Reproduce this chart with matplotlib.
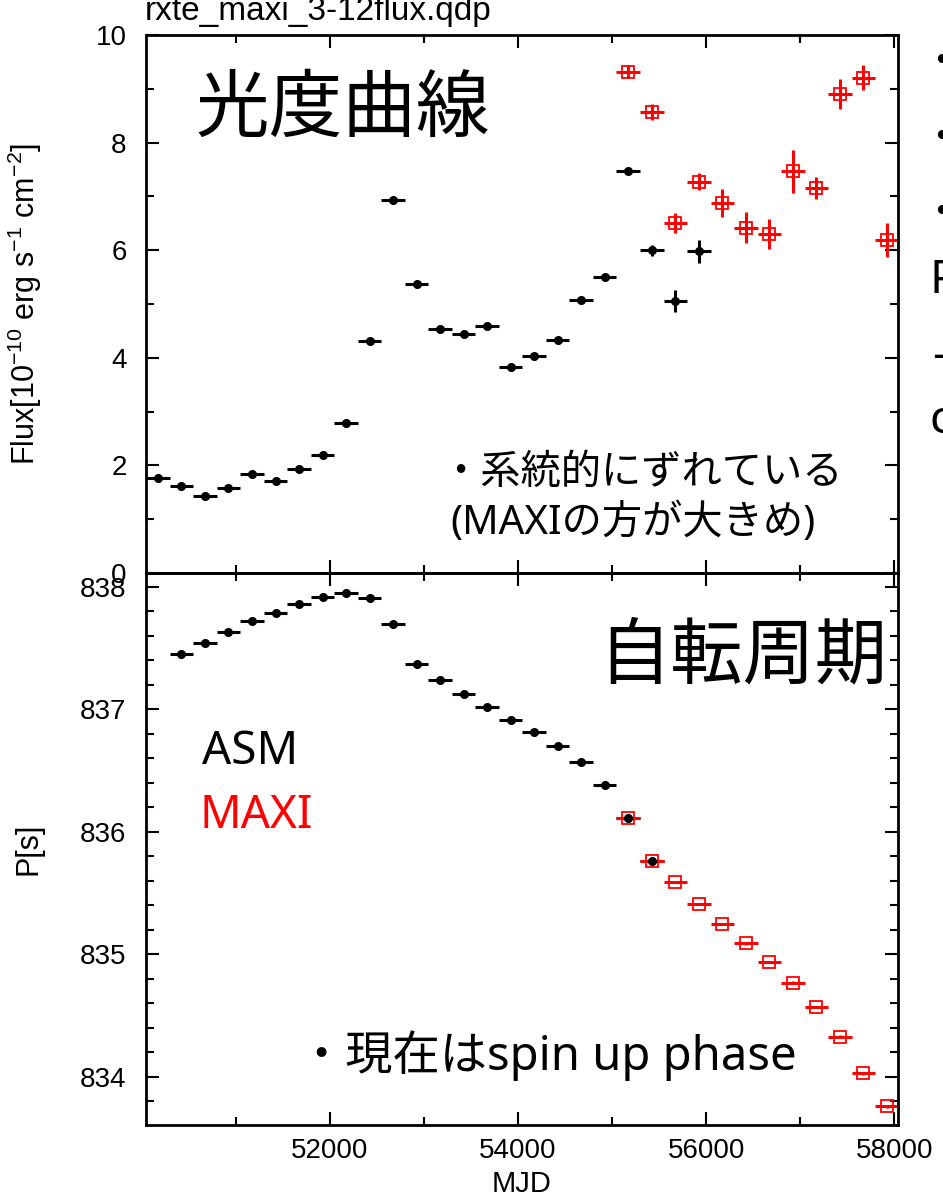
import matplotlib
matplotlib.use("Agg")
import matplotlib.pyplot as plt
from matplotlib.ticker import MultipleLocator, FormatStrFormatter

# ---- data ----
asm_flux_mjd = [50172, 50422, 50672, 50922, 51172, 51422, 51672, 51922,
                52172, 52422, 52672, 52922, 53172, 53422, 53672, 53922,
                54172, 54422, 54672, 54922, 55172, 55422, 55672, 55922]
asm_flux = [1.77, 1.62, 1.43, 1.58, 1.84, 1.71, 1.93, 2.19,
            2.78, 4.31, 6.93, 5.38, 4.53, 4.44, 4.59, 3.82,
            4.04, 4.33, 5.07, 5.51, 7.48, 6.00, 5.06, 5.98]
asm_flux_err = [0.06, 0.03, 0.03, 0.03, 0.03, 0.03, 0.03, 0.03,
                0.04, 0.04, 0.04, 0.04, 0.04, 0.04, 0.04, 0.04,
                0.04, 0.05, 0.05, 0.05, 0.06, 0.10, 0.20, 0.21]

maxi_mjd = [55172, 55422, 55672, 55922, 56172, 56422,
            56672, 56922, 57172, 57422, 57672, 57922]
maxi_flux = [9.32, 8.57, 6.51, 7.27, 6.88, 6.42,
             6.30, 7.47, 7.16, 8.90, 9.21, 6.19]
maxi_flux_err = [0.12, 0.15, 0.19, 0.16, 0.26, 0.29,
                 0.28, 0.40, 0.20, 0.28, 0.23, 0.32]

asm_period_mjd = [50422, 50672, 50922, 51172, 51422, 51672, 51922, 52172,
                  52422, 52672, 52922, 53172, 53422, 53672, 53922, 54172,
                  54422, 54672, 54922, 55172, 55422]
asm_period = [837.45, 837.54, 837.635, 837.72, 837.79, 837.86, 837.92, 837.95,
              837.91, 837.70, 837.37, 837.24, 837.13, 837.02, 836.91, 836.82,
              836.70, 836.57, 836.38, 836.11, 835.76]
maxi_period = [836.11, 835.76, 835.59, 835.41, 835.25, 835.09,
               834.94, 834.77, 834.57, 834.33, 834.03, 833.76]

bin_half_width = 125  # days
period_err = 0.01

W, H = 943, 1195

plt.rcParams["font.family"] = ["Liberation Sans", "Noto Sans CJK JP", "DejaVu Sans"]
plt.rcParams["mathtext.fontset"] = "custom"
plt.rcParams["mathtext.rm"] = "Liberation Sans"
plt.rcParams["mathtext.it"] = "Liberation Sans:italic"

SLIDE_FONT = ["Noto Sans", "Noto Sans CJK JP", "DejaVu Sans"]
CJK_FONT = ["Noto Sans CJK JP", "DejaVu Sans"]


def fpos(x, y):
    return x / W, 1 - y / H


def style_axes(ax):
    for sp in ax.spines.values():
        sp.set_linewidth(2)
    ax.tick_params(which="both", direction="in", top=True, right=True,
                   width=1.5, labelsize=20)
    ax.tick_params(which="major", length=9.5)
    ax.tick_params(which="minor", length=5.5)
    ax.tick_params(axis="y", pad=14)
    ax.tick_params(axis="x", pad=9)
    ax.xaxis.set_major_locator(MultipleLocator(2000))
    ax.xaxis.set_minor_locator(MultipleLocator(1000))
    ax.xaxis.set_major_formatter(FormatStrFormatter("%d"))
    ax.set_xlim(50045, 58040)
    ax.patch.set_alpha(0)


def draw_points(ax, asm_x, asm_y, asm_err, maxi_x, maxi_y, maxi_err):
    ax.errorbar(asm_x, asm_y, xerr=bin_half_width, yerr=asm_err,
                fmt="o", color="black", ms=5.5, elinewidth=2.2, capsize=0)
    ax.errorbar(maxi_x, maxi_y, xerr=bin_half_width, yerr=maxi_err,
                fmt="s", color="red", ms=8, mfc="none", mec="red", mew=1.3,
                elinewidth=2.2, capsize=0)


fig = plt.figure(figsize=(W / 100, H / 100), dpi=100)
ax1 = fig.add_axes([146 / W, 1 - 573 / H, 752 / W, 538 / H])
ax2 = fig.add_axes([146 / W, 1 - 1125 / H, 752 / W, 552 / H])

# light curve
style_axes(ax1)
draw_points(ax1, asm_flux_mjd, asm_flux, asm_flux_err,
            maxi_mjd, maxi_flux, maxi_flux_err)
ax1.set_ylim(0, 10)
ax1.yaxis.set_major_locator(MultipleLocator(2))
ax1.yaxis.set_minor_locator(MultipleLocator(1))
ax1.yaxis.set_major_formatter(FormatStrFormatter("%d"))
ax1.tick_params(axis="x", labelbottom=False)
ax1.set_ylabel(r"Flux[10$^{-10}$ erg s$^{-1}$ cm$^{-2}$]", fontsize=22)
ax1.yaxis.set_label_coords(-0.136, 0.5)

# spin period
style_axes(ax2)
draw_points(ax2, asm_period_mjd, asm_period, period_err,
            maxi_mjd, maxi_period, period_err)
ax2.set_ylim(833.608, 838.114)
ax2.yaxis.set_major_locator(MultipleLocator(1))
ax2.yaxis.set_minor_locator(MultipleLocator(0.2))
ax2.yaxis.set_major_formatter(FormatStrFormatter("%d"))
ax2.set_ylabel("P[s]", fontsize=22)
ax2.yaxis.set_label_coords(-0.136, 0.5)
ax2.set_xlabel("MJD", fontsize=21)
ax2.xaxis.set_label_coords(0.5, -0.082)

# qdp file name, partly cut by the top edge
fig.text(*fpos(145, 20), "rxte_maxi_3-12flux.qdp", fontsize=24, va="baseline")

# slide annotations
fig.text(*fpos(196, 131), "光度曲線", fontsize=53, family=CJK_FONT, va="baseline")
fig.text(*fpos(598, 677), "自転周期", fontsize=52, family=CJK_FONT, va="baseline")
fig.text(*fpos(440, 484), "・系統的にずれている", fontsize=29,
         family=SLIDE_FONT, va="baseline")
fig.text(*fpos(450, 534), "(MAXIの方が大きめ)", fontsize=29,
         family=SLIDE_FONT, va="baseline")
fig.text(*fpos(202, 764), "ASM", fontsize=33, family=SLIDE_FONT,
         va="baseline", color="black")
fig.text(*fpos(200, 828), "MAXI", fontsize=33, family=SLIDE_FONT,
         va="baseline", color="red")
fig.text(*fpos(298, 1070), "・現在はspin up phase", fontsize=34,
         family=SLIDE_FONT, va="baseline")

# slide text running off the right edge
for yb in (74, 150, 225):
    fig.text(*fpos(921, yb), "・", fontsize=29, family=CJK_FONT, va="baseline")
fig.text(*fpos(929, 293), "P", fontsize=33, family=SLIDE_FONT, va="baseline")
fig.text(*fpos(932, 368), "-", fontsize=33, family=SLIDE_FONT, va="baseline")
fig.text(*fpos(930, 433), "c", fontsize=33, family=SLIDE_FONT, va="baseline")

fig.savefig("out.png", dpi=100)
